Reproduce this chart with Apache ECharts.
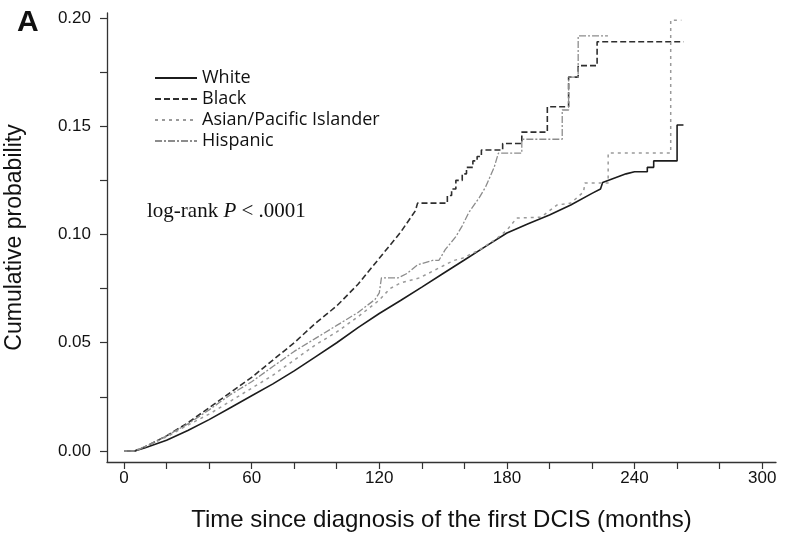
<!DOCTYPE html>
<html>
<head>
<meta charset="utf-8">
<script src="https://cdn.jsdelivr.net/npm/echarts@6/dist/echarts.min.js"></script>
<style>
  html, body { margin: 0; padding: 0; background: #fff; }
  #chart { width: 785px; height: 533px; }
</style>
</head>
<body>
<div id="chart"></div>
<script>
// cumulative probability: [months, probability]
var white = [[0, 0], [5, 0], [10, 0.0015], [20, 0.005], [30, 0.0095], [40, 0.0145], [50, 0.020], [60, 0.0255],
  [70, 0.031], [80, 0.037], [90, 0.0435], [100, 0.050], [110, 0.057], [120, 0.0635], [130, 0.0695],
  [140, 0.0757], [150, 0.082], [160, 0.0882], [170, 0.0945], [180, 0.1007], [190, 0.105], [200, 0.109],
  [210, 0.1136], [220, 0.119], [224, 0.121], [225, 0.124], [236, 0.128], [240, 0.129], [246, 0.129],
  [246, 0.131], [249, 0.131], [249, 0.134], [260, 0.134], [260, 0.1506], [263, 0.1506]]

var black = [[0, 0], [5, 0], [10, 0.002], [20, 0.007], [30, 0.013], [40, 0.020], [50, 0.027], [60, 0.034],
  [70, 0.042], [80, 0.050], [90, 0.059], [100, 0.067], [110, 0.077], [120, 0.089], [130, 0.101],
  [137, 0.111], [138, 0.1145], [152, 0.1145], [152, 0.118], [154, 0.118], [154, 0.121], [156, 0.121],
  [156, 0.125], [159, 0.125], [159, 0.128], [161, 0.128], [161, 0.131], [164, 0.131], [164, 0.134],
  [166, 0.134], [166, 0.136], [168, 0.136], [168, 0.139], [178, 0.139], [178, 0.142], [187, 0.142],
  [187, 0.1473], [199, 0.1473], [199, 0.159], [209, 0.159], [209, 0.1727], [213.5, 0.1727],
  [213.5, 0.178], [222.4, 0.178], [222.4, 0.189], [263, 0.189]]

var asian = [[0, 0], [5, 0], [10, 0.002], [20, 0.0065], [30, 0.012], [40, 0.017], [50, 0.023], [60, 0.029],
  [70, 0.035], [80, 0.042], [90, 0.049], [100, 0.055], [110, 0.062], [120, 0.0697], [125, 0.075],
  [130, 0.0776], [139, 0.080], [147, 0.084], [155, 0.088], [159, 0.089], [167, 0.0928], [175, 0.098],
  [180, 0.102], [184.6, 0.1076], [196, 0.108], [203.5, 0.1136], [210, 0.1145], [216, 0.1196],
  [216.7, 0.1238], [227.6, 0.1238], [227.6, 0.1376], [257, 0.1376], [257, 0.199], [262, 0.199]]

var hispanic = [[0, 0], [5, 0], [10, 0.002], [20, 0.007], [30, 0.0125], [40, 0.019], [50, 0.026], [60, 0.032],
  [70, 0.039], [80, 0.046], [90, 0.052], [100, 0.058], [110, 0.064], [118, 0.070], [120, 0.073],
  [121, 0.080], [129, 0.080], [133, 0.082], [138, 0.086], [145, 0.088], [148, 0.088], [151, 0.093],
  [156, 0.099], [159, 0.104], [162, 0.110], [167, 0.117], [170, 0.122], [174, 0.131], [176, 0.1376],
  [187, 0.1376], [187, 0.144], [206, 0.144], [206, 0.1575], [209, 0.1575], [209, 0.1727],
  [213.5, 0.1727], [213.5, 0.1917], [227.5, 0.1917]]

var xTicks = [0, 20, 40, 60, 80, 100, 120, 140, 160, 180, 200, 220, 240, 260, 280, 300]
var xLabels = [0, 60, 120, 180, 240, 300]
var yTicks = [0, 0.025, 0.05, 0.075, 0.1, 0.125, 0.15, 0.175, 0.2]
var yLabels = [0, 0.05, 0.1, 0.15, 0.2]

var axisColor = '#333'

function line (name, data, color, type, width) {
  return {
    name: name,
    type: 'line',
    data: data,
    symbol: 'none',
    silent: true,
    animation: false,
    lineStyle: { color: color, type: type, width: width },
    itemStyle: { color: color }
  }
}

var chart = echarts.init(document.getElementById('chart'))
chart.setOption({
  backgroundColor: '#fff',
  animation: false,
  title: [
    {
      text: 'A',
      left: 12,
      top: 3,
      textStyle: { fontFamily: 'Liberation Sans', fontWeight: 'bold', fontSize: 30, color: '#111' }
    },
    {
      text: '{a|log-rank }{b|P}{a| < .0001}',
      left: 142,
      top: 196,
      textStyle: {
        fontWeight: 'normal',
        rich: {
          a: { fontFamily: 'Liberation Serif', fontSize: 21, fontWeight: 'normal', color: '#111' },
          b: { fontFamily: 'Liberation Serif', fontSize: 21, fontWeight: 'normal', fontStyle: 'italic', color: '#111' }
        }
      }
    }
  ],
  legend: {
    orient: 'vertical',
    left: 149,
    top: 64,
    itemWidth: 42,
    itemHeight: 14,
    itemGap: 3,
    selectedMode: false,
    itemStyle: { opacity: 0 },
    textStyle: { fontFamily: 'Open Sans', fontSize: 18, color: '#111' },
    data: ['White', 'Black', 'Asian/Pacific Islander', 'Hispanic']
  },
  grid: { left: 107, right: 9, top: 13, bottom: 71, containLabel: false, outerBoundsMode: 'none' },
  xAxis: {
    type: 'value',
    position: 'bottom',
    min: -8,
    max: 306.5,
    name: 'Time since diagnosis of the first DCIS (months)',
    nameLocation: 'middle',
    nameGap: 46,
    nameMoveOverlap: false,
    nameTextStyle: { fontFamily: 'Liberation Sans', fontSize: 24, color: '#111' },
    splitLine: { show: false },
    axisLine: { onZero: false, lineStyle: { color: axisColor, width: 1.3 } },
    axisTick: { show: true, inside: false, customValues: xTicks, length: 7, lineStyle: { color: axisColor, width: 1.2 } },
    axisLabel: {
      customValues: xLabels,
      margin: 8,
      fontFamily: 'Liberation Sans',
      fontSize: 17,
      color: '#111'
    }
  },
  yAxis: {
    type: 'value',
    position: 'left',
    min: -0.00508,
    max: 0.2023,
    name: 'Cumulative probability',
    nameLocation: 'middle',
    nameGap: 81,
    nameMoveOverlap: false,
    nameTextStyle: { fontFamily: 'Liberation Sans', fontSize: 23, color: '#111' },
    splitLine: { show: false },
    axisLine: { show: true, onZero: false, lineStyle: { color: axisColor, width: 1.3 } },
    axisTick: { show: true, inside: false, customValues: yTicks, length: 7, lineStyle: { color: axisColor, width: 1.2 } },
    axisLabel: {
      customValues: yLabels,
      margin: 16,
      fontFamily: 'Liberation Sans',
      fontSize: 17,
      color: '#111',
      formatter: function (v) { return v.toFixed(2) }
    }
  },
  series: [
    line('White', white, '#1c1c1c', 'solid', 1.6),
    line('Black', black, '#2e2e2e', [6, 3], 1.6),
    line('Asian/Pacific Islander', asian, '#9a9a9a', [3, 4], 1.5),
    line('Hispanic', hispanic, '#8c8c8c', [7, 2, 2, 2], 1.3)
  ]
})
</script>
</body>
</html>
